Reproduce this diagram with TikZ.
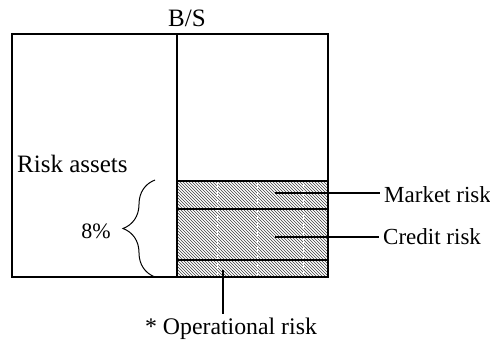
\documentclass[tikz,border=0pt]{standalone}
\usepackage{fontspec}
\setmainfont{Liberation Serif}
\usetikzlibrary{patterns,decorations.pathreplacing}
\tikzset{
  >=latex,
}
\tikzstyle{frame}=[line width=2.8pt]
\tikzstyle{band}=[line width=2.2pt]
\tikzstyle{hatch}=[pattern=north west lines,pattern color=black!75]
\tikzstyle{leader}=[line width=1.2pt]
\tikzstyle{every node}=[font=\fontsize{23}{26}\selectfont,inner sep=0pt]
\tikzstyle{label}=[inner sep=4.5pt]
\tikzstyle{big}=[font=\fontsize{25}{28}\selectfont]

\begin{document}
\begin{tikzpicture}[x=1pt,y=-1pt]
    \useasboundingbox (0,0) rectangle (490,344);
    \fill[hatch] (177,181) rectangle (328,277);
    \foreach \x in {217,257,303}
      \draw[white,line width=0.8pt,dash pattern=on 5pt off 3pt] (\x,183)--(\x,275);
    \draw[band] (177,181)--(328,181);
    \draw[band] (177,209)--(328,209);
    \draw[band] (177,260)--(328,260);
    \draw[band] (12,34)--(328,34);
    \draw[frame] (12,33)--(12,277)--(328,277)--(328,33);
    \draw[frame] (177,34)--(177,277);
    \node[big,anchor=base] (bs) at (187,27) {B/S};
    \node[big,anchor=base west] (assets) at (17,173) {Risk assets};
    \draw[line width=1pt,decorate,decoration={brace,amplitude=32pt,aspect=0.5}] (155,277)--(155,180);
    \node[font=\fontsize{22}{26}\selectfont] (pct) at (96,231) {8\%};
    \node[label,anchor=base west] (market) at (379.5,203) {Market risk};
    \node[label,anchor=base west] (credit) at (378.5,245) {Credit risk};
    \node[label,font=\fontsize{23.8}{26}\selectfont,anchor=base] (oprisk) at (231,335) {* Operational risk};
    \coordinate (mk) at (275,193);
    \coordinate (cr) at (275,237);
    \coordinate (op) at (223,270);
    \draw[leader] (mk)--(mk -| market.west);
    \draw[leader] (cr)--(cr -| credit.west);
    \draw[leader] (op)--(op |- oprisk.north);
  \end{tikzpicture}
\end{document}
